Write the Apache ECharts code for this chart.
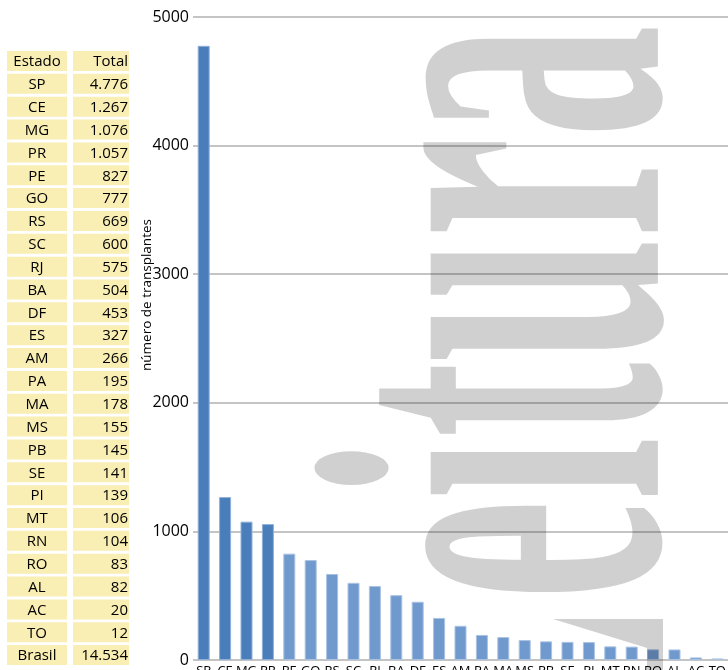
<!DOCTYPE html>
<html>
<head>
<meta charset="utf-8">
<script src="https://cdn.jsdelivr.net/npm/echarts@6/dist/echarts.min.js"></script>
<style>
    html, body { margin: 0; padding: 0; background: #fff; }
    #chart { width: 728px; height: 670px; }
</style>
</head>
<body>
<div id="chart"></div>
<script>
// 数据
const estados = ['SP', 'CE', 'MG', 'PR', 'PE', 'GO', 'RS', 'SC', 'RJ', 'BA', 'DF', 'ES', 'AM',
    'PA', 'MA', 'MS', 'PB', 'SE', 'PI', 'MT', 'RN', 'RO', 'AL', 'AC', 'TO'];
const totais = [4776, 1267, 1076, 1057, 827, 777, 669, 600, 575, 504, 453, 327, 266,
    195, 178, 155, 145, 141, 139, 106, 104, 83, 82, 20, 12];
const totalBrasil = 14534;
const yTicks = [0, 1000, 2000, 3000, 4000, 5000];
const nDestaque = 4; // 前四个颜色较深

const fonte = '"Open Sans", "Noto Sans", sans-serif';
const fmt = v => v.toLocaleString('pt-BR');
const sombra = 'rgba(0,0,0,0.185)'; // 水印颜色（半透明，叠在柱子和网格上会变深）

// 左侧表格
function tabela() {
    const els = [];
    const linhas = [['Estado', 'Total']]
        .concat(estados.map((e, i) => [e, fmt(totais[i])]))
        .concat([['Brasil', fmt(totalBrasil)]]);
    const y0 = 51, passo = 22.85, h = 20;
    linhas.forEach((l, i) => {
        const y = y0 + i * passo;
        els.push({ type: 'rect', shape: { x: 7, y: y, width: 60, height: h }, style: { fill: '#f9eeb3' }, silent: true });
        els.push({ type: 'rect', shape: { x: 73, y: y, width: 56, height: h }, style: { fill: '#f9eeb3' }, silent: true });
        els.push({ type: 'text', x: 37, y: y + h / 2 + 1, style: { text: l[0], font: '15px ' + fonte, fill: '#000', align: 'center', verticalAlign: 'middle' }, silent: true });
        els.push({ type: 'text', x: 128, y: y + h / 2 + 1, style: { text: l[1], font: '15px ' + fonte, fill: '#000', align: 'right', verticalAlign: 'middle' }, silent: true });
    });
    return els;
}

const chart = echarts.init(document.getElementById('chart'));
chart.setOption({
    animation: false,
    backgroundColor: '#fff',
    grid: { left: 193, right: 0, top: 17, bottom: 10, containLabel: false, outerBoundsMode: 'none' },
    xAxis: {
        type: 'category',
        data: estados,
        axisLine: { show: false },
        axisTick: { show: false },
        axisLabel: { color: '#000', fontSize: 13, fontFamily: fonte, margin: 5, interval: 0 }
    },
    yAxis: {
        type: 'value',
        min: yTicks[0],
        max: yTicks[yTicks.length - 1],
        interval: 1000,
        axisLine: { show: false },
        axisTick: { show: false },
        axisLabel: { color: '#000', fontSize: 16, fontFamily: fonte, margin: 4, formatter: v => String(v) },
        splitLine: { lineStyle: { color: '#c4c4c4', width: 2 } }
    },
    series: [{
        type: 'bar',
        barWidth: 12,
        data: totais.map((v, i) => ({
            value: v,
            itemStyle: {
                color: i < nDestaque ? '#4a7ebb' : '#7099cd',
                borderColor: i < nDestaque ? '#8fb0d9' : '#a9c2e2',
                borderWidth: 1
            }
        }))
    }],
    graphic: tabela().concat([
        {
            type: 'text', x: 147, y: 295, rotation: Math.PI / 2, silent: true,
            style: { text: 'número de transplantes', font: '13.5px ' + fonte, fill: '#000', align: 'center', verticalAlign: 'middle' }
        },
        // 水印
        {
            type: 'text', x: 530, y: 25, rotation: Math.PI / 2, scaleX: 1, scaleY: 2.2, z: 100, silent: true,
            style: { text: 'eitura', font: 'bold 225px "Liberation Serif", serif', fill: sombra, align: 'right', verticalAlign: 'middle' }
        },
        {
            type: 'polygon', z: 100, silent: true,
            shape: { points: [[553, 619], [663, 619], [663, 670], [647, 670], [647, 648]] },
            style: { fill: sombra }
        }
    ])
});
</script>
</body>
</html>
